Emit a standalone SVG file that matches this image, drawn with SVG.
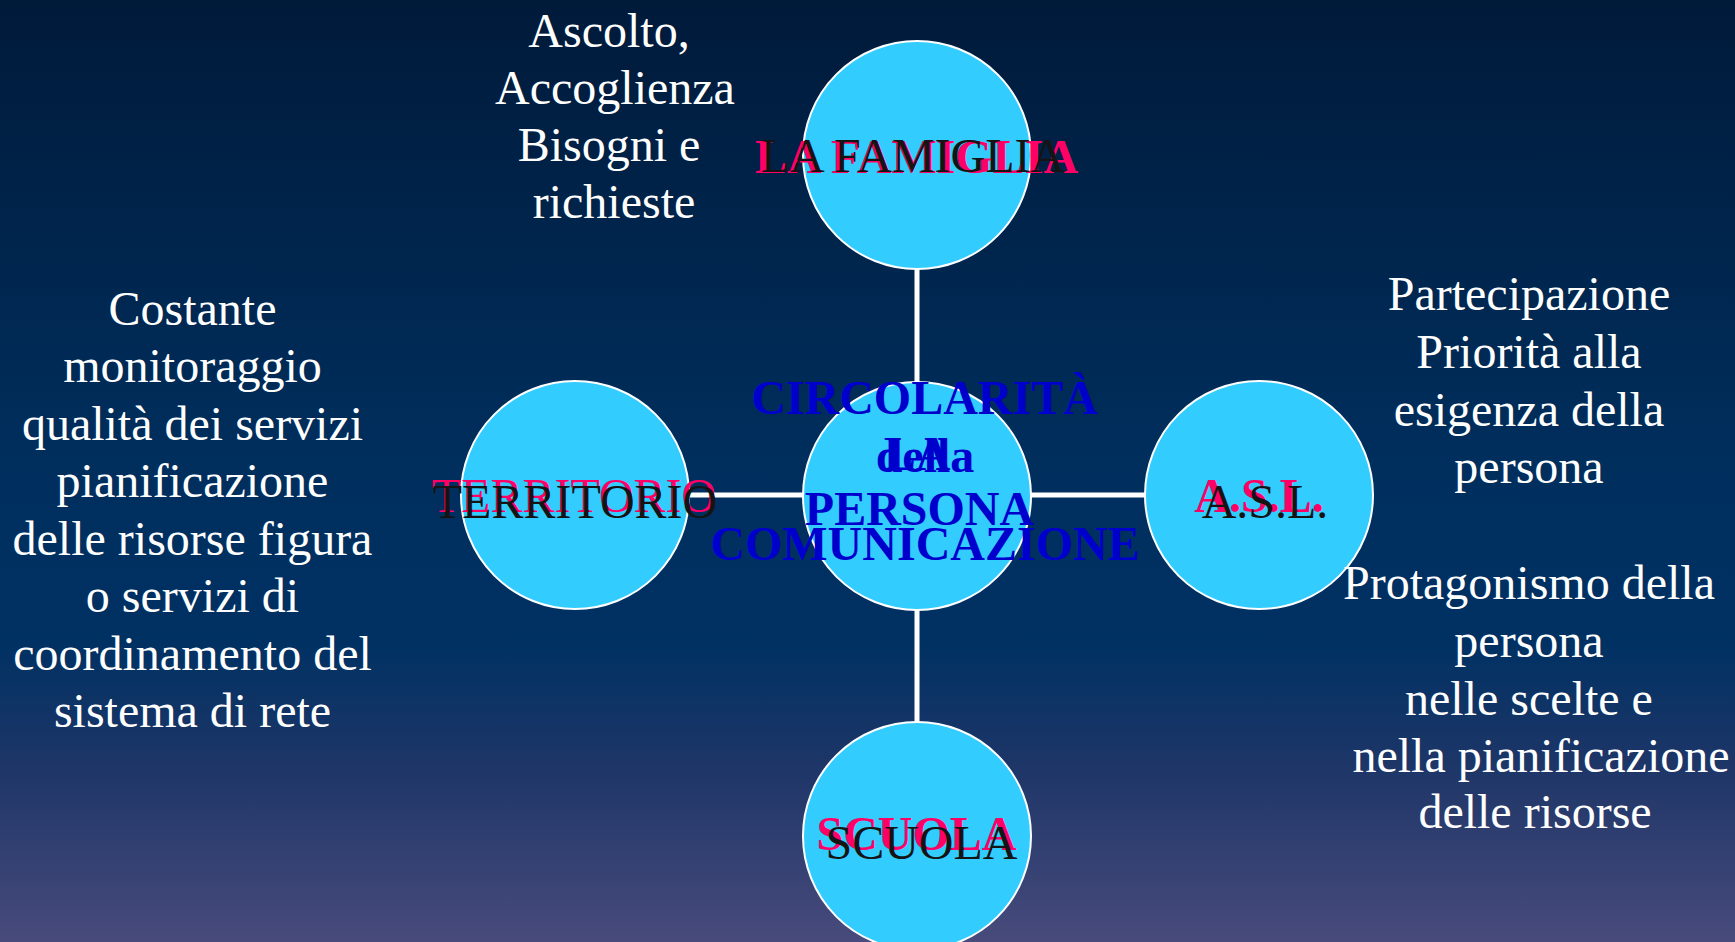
<svg xmlns="http://www.w3.org/2000/svg" width="1735" height="942" viewBox="0 0 1735 942">
<style>
text{font-family:"Liberation Serif",Tinos,"Times New Roman",Times,serif;font-size:48px;text-anchor:middle}
.note{fill:#ffffff}
.pk{fill:#ff0066}
.bk{fill:#141414}
.bl{font-weight:bold;fill:#0000cc}
.b{font-weight:bold}
.node{fill:#33ccff;stroke:#ffffff;stroke-width:2}
.conn{stroke:#ffffff;stroke-width:5;fill:none}
</style>
<defs>
<linearGradient id="bg" x1="0" y1="0" x2="0" y2="1">
<stop offset="0" stop-color="#001a3a"/>
<stop offset="0.5" stop-color="#002f5e"/>
<stop offset="0.68" stop-color="#003163"/>
<stop offset="0.82" stop-color="#1f3668"/>
<stop offset="1" stop-color="#484b7c"/>
</linearGradient>
</defs>
<rect x="0" y="0" width="1735" height="942" fill="url(#bg)"/>
<g id="connectors">
<line class="conn" x1="917" y1="155" x2="917" y2="836"/>
<line class="conn" x1="575" y1="495" x2="1259" y2="495"/>
</g>
<g id="famiglia">
<circle class="node" cx="917" cy="155" r="114"/>
<text class="pk b" x="916.5" y="173">LA FAMIGLIA</text>
<text class="bk" x="913" y="172">LA FAMIGLIA</text>
</g>
<g id="territorio">
<circle class="node" cx="575" cy="495" r="114"/>
<text class="pk" x="574" y="512">TERRITORIO</text>
<text class="bk" x="575" y="518">TERRITORIO</text>
</g>
<g id="asl">
<circle class="node" cx="1259" cy="495" r="114"/>
<text class="pk b" x="1259" y="512">A.S.L.</text>
<text class="bk" x="1265" y="518">A.S.L.</text>
</g>
<g id="scuola">
<circle class="node" cx="917" cy="836" r="114"/>
<text class="pk b" x="916.5" y="850">SCUOLA</text>
<text class="bk" x="921.5" y="859">SCUOLA</text>
</g>
<g id="centro">
<circle class="node" cx="917" cy="496" r="114"/>
<text class="bl" x="924.5" y="414">CIRCOLARITÀ</text>
<text class="bl" x="925" y="471.5">della</text>
<text class="bl" x="917" y="470">LA</text>
<text class="bl" x="919.5" y="525">PERSONA</text>
<text class="bl" x="925" y="560">COMUNICAZIONE</text>
</g>
<g id="note-famiglia">
<text class="note" x="609" y="46.5">Ascolto,</text>
<text class="note" x="615" y="103.5">Accoglienza</text>
<text class="note" x="609" y="160.5">Bisogni e</text>
<text class="note" x="614" y="217.5">richieste</text>
</g>
<g id="note-territorio">
<text class="note" x="192.5" y="325">Costante</text>
<text class="note" x="192.5" y="382">monitoraggio</text>
<text class="note" x="192.5" y="440">qualità dei servizi</text>
<text class="note" x="192.5" y="497">pianificazione</text>
<text class="note" x="192.5" y="555">delle risorse figura</text>
<text class="note" x="192.5" y="612">o servizi di</text>
<text class="note" x="192.5" y="670">coordinamento del</text>
<text class="note" x="192.5" y="727">sistema di rete</text>
</g>
<g id="note-asl">
<text class="note" x="1529" y="310">Partecipazione</text>
<text class="note" x="1529" y="368">Priorità alla</text>
<text class="note" x="1529" y="425.5">esigenza della</text>
<text class="note" x="1529" y="483">persona</text>
<text class="note" x="1529" y="599">Protagonismo della</text>
<text class="note" x="1529" y="657">persona</text>
<text class="note" x="1529" y="715">nelle scelte e</text>
<text class="note" x="1541" y="772">nella pianificazione</text>
<text class="note" x="1535" y="828">delle risorse</text>
</g>
</svg>
